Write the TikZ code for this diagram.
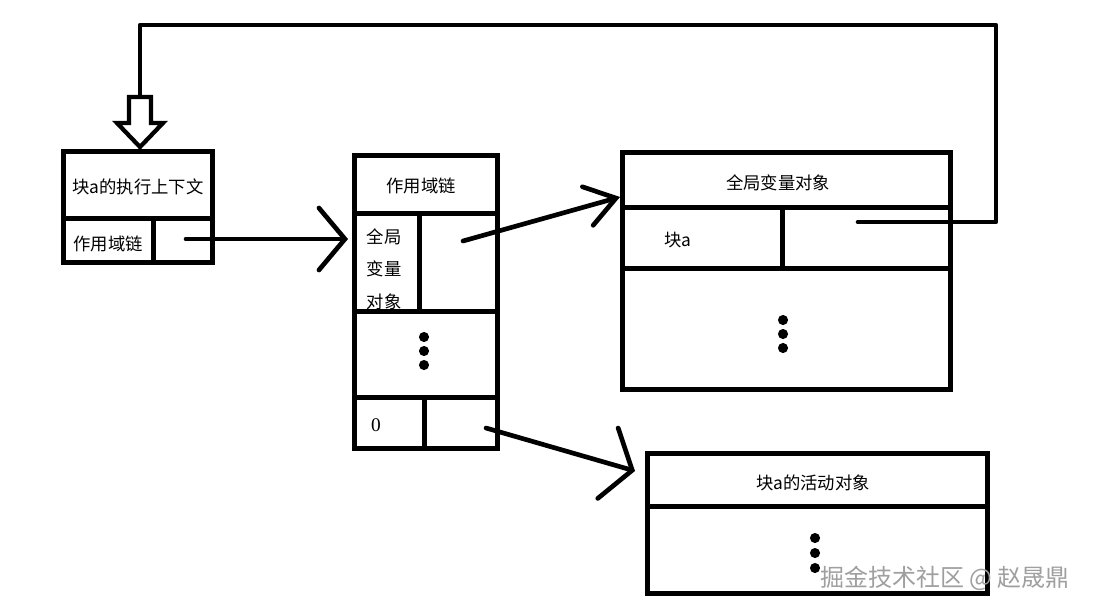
\documentclass[tikz,border=0pt]{standalone}
\usepackage{fontspec}
\newfontfamily\cjk{Noto Sans CJK SC}
\newfontfamily\digitfont{Liberation Serif}
\usetikzlibrary{arrows.meta}
\begin{document}
\begin{tikzpicture}[x=0.75pt,y=-0.75pt,
  box/.style={draw, line width=3.75pt, inner sep=0pt, rectangle},
  divline/.style={line width=3.75pt},
  lbl/.style={font=\cjk\fontsize{13}{15}\selectfont, inner sep=0pt},
  ptr/.style={line width=3.5pt, line cap=round, line join=round},
  dotm/.style={circle, fill=black, inner sep=0pt, minimum size=7.6pt}]
\useasboundingbox (0,0) rectangle (1094,611);
\fill[white] (0,0) rectangle (1094,611);

% ---------- box 1: execution context ----------
\node[box, minimum width=149*0.75pt, minimum height=111*0.75pt] (ctx) at (137.5,206.5) {};
\node[lbl] (ctxT) at (138,187) {块a的执行上下文};
\node[lbl] (ctxS) at (108,244) {作用域链};
\draw[divline] (63,218) -- (212,218);
\draw[divline] (153,218) -- (153,262);

% ---------- box 2: scope chain ----------
\node[box, minimum width=143*0.75pt, minimum height=293*0.75pt] (sc) at (425.5,301.5) {};
\node[lbl] (scT) at (421,186) {作用域链};
\node[lbl] (scA) at (384,237) {全局};
\node[lbl] (scB) at (384,269) {变量};
\node[lbl] (scC) at (384,302) {对象};
\node[font=\digitfont\fontsize{14.5}{16}\selectfont, inner sep=0pt] (scZ) at (376,425) {0};
\draw[divline] (354,213) -- (497,213);
\draw[divline] (419,213) -- (419,311);
\draw[divline] (354,311) -- (497,311);
\draw[divline] (354,397) -- (497,397);
\draw[divline] (424,397) -- (424,448);
\node[dotm] (scd1) at (424,337) {};
\node[dotm] (scd2) at (424,351) {};
\node[dotm] (scd3) at (424,365) {};

% ---------- box 3: global variable object ----------
\node[box, minimum width=328*0.75pt, minimum height=237*0.75pt] (gvo) at (786,270.5) {};
\node[lbl] (gvoT) at (778,183) {全局变量对象};
\node[lbl] (gvoA) at (678,240) {块a};
\draw[divline] (622,207) -- (950,207);
\draw[divline] (622,268) -- (950,268);
\draw[divline] (782,207) -- (782,270);
\node[dotm] (gvd1) at (783,320) {};
\node[dotm] (gvd2) at (783,334) {};
\node[dotm] (gvd3) at (783,348) {};

% ---------- box 4: activation object ----------
\node[box, minimum width=340*0.75pt, minimum height=140*0.75pt] (ao) at (817,523) {};
\node[lbl] (aoT) at (813,483) {块a的活动对象};
\draw[divline] (647,506) -- (988,506);
\node[dotm] (aod1) at (815,538) {};
\node[dotm] (aod2) at (815,553) {};
\node[dotm] (aod3) at (815,568) {};

% ---------- connectors ----------
\coordinate (ctxptr) at (186,239);
\coordinate (scin) at (348,239);
\draw[ptr, -{Straight Barb[length=19.5pt, width=46.5pt, line cap=round]}] (ctxptr) -- (scin);

\coordinate (scptr) at (463,241);
\coordinate (gvoin) at (620,197);
\draw[ptr, -{Straight Barb[length=22pt, width=30pt, line cap=round]}] (scptr) -- (gvoin);

\coordinate (scptr2) at (486,428);
\coordinate (aoin) at (635,471);
\draw[ptr, -{Straight Barb[length=19pt, width=55pt, line cap=round]}] (scptr2) -- (aoin);

% loop back from global object to execution context
\coordinate (gptr) at (858,222);
\coordinate (c1) at (996,222);
\coordinate (c2) at (996,25);
\coordinate (c3) at (140,25);
\coordinate (rettop) at (140,97);
\draw[ptr] (gptr) -- (c1) -- (c2) -- (c3) -- (rettop);

% hollow arrow
\draw[line width=3.2pt, line join=miter, fill=white]
  (129,97) -- (151,97) -- (151,123) -- (163,123) -- (140,147) -- (117,123) -- (129,123) -- cycle;

% watermark
\node[font=\cjk\fontsize{18}{20}\selectfont, text=gray!75, inner sep=0pt] (wm) at (945,578) {掘金技术社区\ @\ 赵晟鼎};
\end{tikzpicture}
\end{document}
